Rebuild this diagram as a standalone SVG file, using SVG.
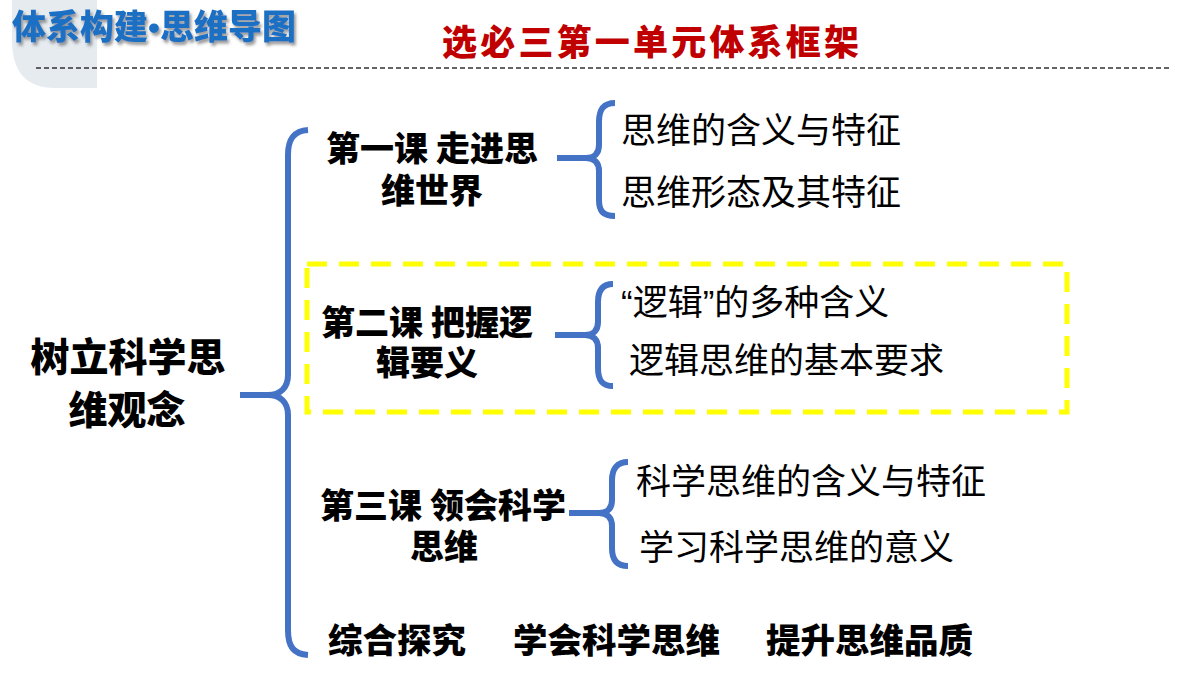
<svg xmlns="http://www.w3.org/2000/svg" width="1200" height="675" viewBox="0 0 1200 675">
<defs>
<style>
.brace{fill:none;stroke:#4472C4;stroke-width:6;stroke-linecap:butt;stroke-linejoin:round}
.lesson{font-family:"Noto Sans CJK SC",sans-serif;font-weight:900;font-size:34px;fill:#000;text-anchor:middle}
.item{font-family:"Noto Sans CJK SC",sans-serif;font-size:35px;fill:#000}
.bottom{font-family:"Noto Sans CJK SC",sans-serif;font-weight:900;font-size:34.5px;fill:#000}
.lat{font-family:"Liberation Sans",sans-serif}
</style>
<filter id="sh" x="-5%" y="-20%" width="110%" height="150%">
<feDropShadow dx="2" dy="3" stdDeviation="1.5" flood-color="#555" flood-opacity="0.6"/>
</filter>
</defs>
<rect width="1200" height="675" fill="#fff"/>
<g id="header">
<path d="M12,0 L97,0 L97,88 L55,88 Q12,88 12,40 Z" fill="#E6EBF0"/>
<text x="12" y="39" font-family="Noto Sans CJK SC,sans-serif" font-weight="900" font-size="34" fill="#1E70C4" filter="url(#sh)">体系构建<tspan class="lat">•</tspan>思维导图</text>
<line x1="36" y1="68" x2="1170" y2="68" stroke="#333" stroke-width="1.3" stroke-dasharray="5 3"/>
</g>
<g id="title">
<text x="442" y="55" font-family="Noto Sans CJK SC,sans-serif" font-weight="900" font-size="35" letter-spacing="3.2" fill="#C00000">选必三第一单元体系框架</text>
</g>
<g id="connectors">
<path class="brace" d="M308,130 C293,131 288,140 288,155 L288,375 C288,388 280,395 268,395 L240,395 M268,395 C280,395 288,402 288,415 L288,630 C288,646 293,654 308,655"/>
<path class="brace" d="M615,103 C603,103 599,110 599,122 L599,145 C599,153 595,158 586,158 L557,158 M586,158 C595,158 599,163 599,171 L599,200 C599,211 603,216 615,216"/>
<path class="brace" d="M613,284 C602,284 598,291 598,302 L598,322 C598,330 594,335 585,335 L555,335 M585,335 C594,335 598,340 598,348 L598,368 C598,380 602,386 613,386"/>
<path class="brace" d="M628,462 C617,462 612,469 612,480 L612,500 C612,508 608,513 599,513 L569,513 M599,513 C608,513 612,518 612,526 L612,548 C612,560 617,566 628,566"/>
</g>
<g id="root">
<text font-family="Noto Sans CJK SC,sans-serif" font-weight="900" font-size="39" text-anchor="middle"><tspan x="128" y="371">树立科学思</tspan><tspan x="127" y="424">维观念</tspan></text>
</g>
<g id="lesson1">
<text class="lesson"><tspan x="432" y="161">第一课 走进思</tspan><tspan x="432" y="203">维世界</tspan></text>
</g>
<g id="lesson1-items">
<text class="item" x="621" y="143">思维的含义与特征</text>
<text class="item" x="621" y="205">思维形态及其特征</text>
</g>
<g id="lesson2">
<rect x="307" y="264" width="760" height="148" fill="none" stroke="#FFFF00" stroke-width="5" stroke-dasharray="20 12"/>
<text class="lesson"><tspan x="427" y="335">第二课 把握逻</tspan><tspan x="427" y="375">辑要义</tspan></text>
</g>
<g id="lesson2-items">
<text class="item" x="621" y="315"><tspan class="lat">“</tspan>逻辑<tspan class="lat">”</tspan>的多种含义</text>
<text class="item" x="629" y="373">逻辑思维的基本要求</text>
</g>
<g id="lesson3">
<text class="lesson"><tspan x="443" y="518">第三课 领会科学</tspan><tspan x="444" y="559">思维</tspan></text>
</g>
<g id="lesson3-items">
<text class="item" x="636" y="494">科学思维的含义与特征</text>
<text class="item" x="639" y="560">学习科学思维的意义</text>
</g>
<g id="inquiry">
<text class="bottom" x="328" y="653">综合探究</text>
<text class="bottom" x="513" y="653">学会科学思维</text>
<text class="bottom" x="766" y="653">提升思维品质</text>
</g>
</svg>
